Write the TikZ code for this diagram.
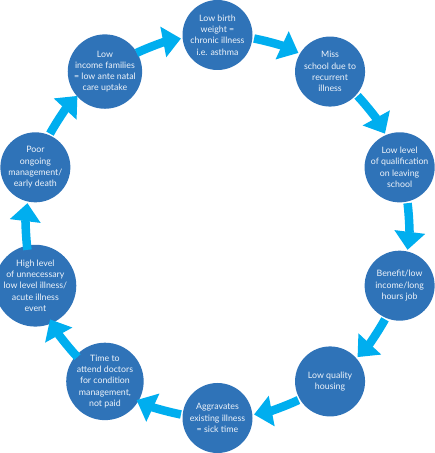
\documentclass[tikz,border=0pt]{standalone}
\usepackage{fontspec}
\setmainfont{Lato}
\usetikzlibrary{arrows.meta,calc}
\definecolor{nodeblue}{HTML}{2F73B8}
\definecolor{arrowcyan}{HTML}{00AEEF}
\definecolor{txt}{HTML}{EEF3FA}
\begin{document}
\begin{tikzpicture}[x=1pt,y=1pt,
  cyc/.style={circle,fill=nodeblue,minimum size=70pt,inner sep=0pt,
    text=txt,align=center,font=\fontsize{8.8}{11.3}\selectfont},
  arr/.style={draw=arrowcyan,line width=8.5pt,
    -{Triangle[width=30pt,length=18pt,color=arrowcyan]}}]
\useasboundingbox (0,0) rectangle (435,453);
\coordinate (O) at (217.5,226.5);
\def\R{191.5}
\node[cyc] (n0) at ($(O)+(90:\R)$) {Low birth\\weight =\\chronic illness\\i.e. asthma};
\node[cyc] (n1) at ($(O)+(54:\R)$) {Miss\\school due to\\recurrent\\illness};
\node[cyc] (n2) at ($(O)+(18:\R)$) {Low level\\of qualification\\on leaving\\school};
\node[cyc] (n3) at ($(O)+(-18:\R)$) {Benefit/low\\income/long\\hours job};
\node[cyc] (n4) at ($(O)+(-54:\R)$) {Low quality\\housing};
\node[cyc] (n5) at ($(O)+(-90:\R)$) {Aggravates\\existing illness\\= sick time};
\node[cyc] (n6) at ($(O)+(-126:\R)$) {Time to\\attend doctors\\for condition\\management,\\not paid};
\node[cyc] (n7) at ($(O)+(-162:\R)$) {High level\\of unnecessary\\low level illness/\\acute illness\\event};
\node[cyc] (n8) at ($(O)+(162:\R)$) {Poor\\ongoing\\management/\\early death};
\node[cyc] (n9) at ($(O)+(126:\R)$) {Low\\income families\\= low ante natal\\care uptake};
\foreach \i in {0,...,9}{
  \pgfmathsetmacro{\a}{90-36*\i-11}
  \pgfmathsetmacro{\b}{90-36*\i-36+11}
  \coordinate (s\i) at ($(O)+(\a:\R)$);
  \draw[arr] (s\i) arc[start angle=\a,end angle=\b,radius=\R];
}
\end{tikzpicture}
\end{document}
